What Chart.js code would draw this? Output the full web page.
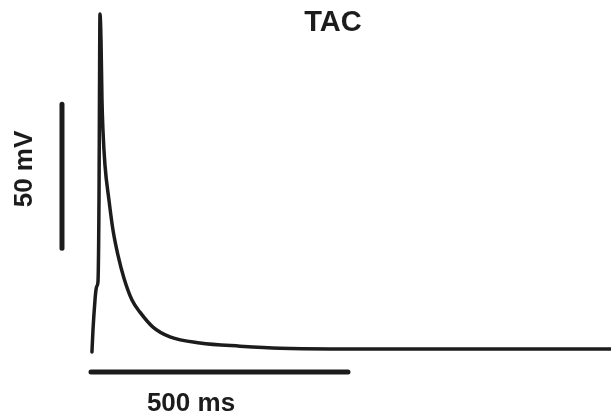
<!DOCTYPE html>
<html>
<head>
<meta charset="utf-8">
<script src="https://cdn.jsdelivr.net/npm/chart.js@4"></script>
<style>
  body { margin: 0; background: #fff; }
  #wrap { width: 611px; height: 419px; position: relative; }
</style>
</head>
<body>
<div id="wrap"><canvas id="canvas"></canvas></div>
<script>
// trace (time in ms, membrane potential in mV)
const traceTime = [1.9, 3.9, 7.8, 9.7, 11.7, 13.6, 15.6, 16.5, 17.5, 19.5, 21.4, 23.3, 27.2, 35, 42.8, 52.5, 64.2, 79.8, 95.3, 120.6, 153.7, 212, 289.9, 367.7, 601, 1011.7];
const traceVoltage = [-81, -73.4, -63, -59.5, -58.1, -56.7, -28.1, 6.6, 36.3, 27.3, 6.5, -4, -16.1, -28.3, -38.7, -47.4, -55.4, -63, -67.2, -72.4, -75.8, -77.9, -79, -79.7, -80, -80];

// scale bars
const vBarTime = [-56.4, -56.4];
const vBarVoltage = [-45, 5];
const hBarTime = [0, 500];
const hBarVoltage = [-88, -88];

const title = 'TAC';
const vBarLabel = '50 mV';
const hBarLabel = '500 ms';

const ctx = document.getElementById('canvas');
const ink = '#1c1c1c';

function toPoints(xs, ys) {
  return xs.map(function(x, i) { return { x: x, y: ys[i] }; });
}

const labelPlugin = {
  id: 'labels',
  afterDraw: function(chart) {
    const c = chart.ctx;
    c.save();
    c.fillStyle = ink;
    c.textAlign = 'center';
    c.textBaseline = 'alphabetic';
    c.font = 'bold 29px "Liberation Sans", Arial, sans-serif';
    c.fillText(title, 333, 31);
    c.font = 'bold 26px "Liberation Sans", Arial, sans-serif';
    c.fillText(hBarLabel, 191, 411);
    c.translate(25, 169);
    c.rotate(-Math.PI / 2);
    c.textBaseline = 'middle';
    c.fillText(vBarLabel, 0, 0);
    c.restore();
  }
};

new Chart(ctx, {
  type: 'line',
  data: {
    datasets: [
      {
        data: toPoints(traceTime, traceVoltage),
        borderColor: ink,
        borderWidth: 3.5,
        pointRadius: 0,
        cubicInterpolationMode: 'monotone',
        borderJoinStyle: 'round',
        borderCapStyle: 'round'
      },
      {
        data: toPoints(vBarTime, vBarVoltage),
        borderColor: ink,
        borderWidth: 5,
        pointRadius: 0,
        borderCapStyle: 'round'
      },
      {
        data: toPoints(hBarTime, hBarVoltage),
        borderColor: ink,
        borderWidth: 5,
        pointRadius: 0,
        borderCapStyle: 'round'
      }
    ]
  },
  options: {
    responsive: true,
    maintainAspectRatio: false,
    animation: false,
    layout: { padding: 0 },
    plugins: {
      legend: { display: false },
      tooltip: { enabled: false }
    },
    scales: {
      x: {
        type: 'linear',
        display: false,
        min: -177,
        max: 1011.7
      },
      y: {
        type: 'linear',
        display: false,
        min: -104.3,
        max: 41.2
      }
    }
  },
  plugins: [labelPlugin]
});
</script>
</body>
</html>
